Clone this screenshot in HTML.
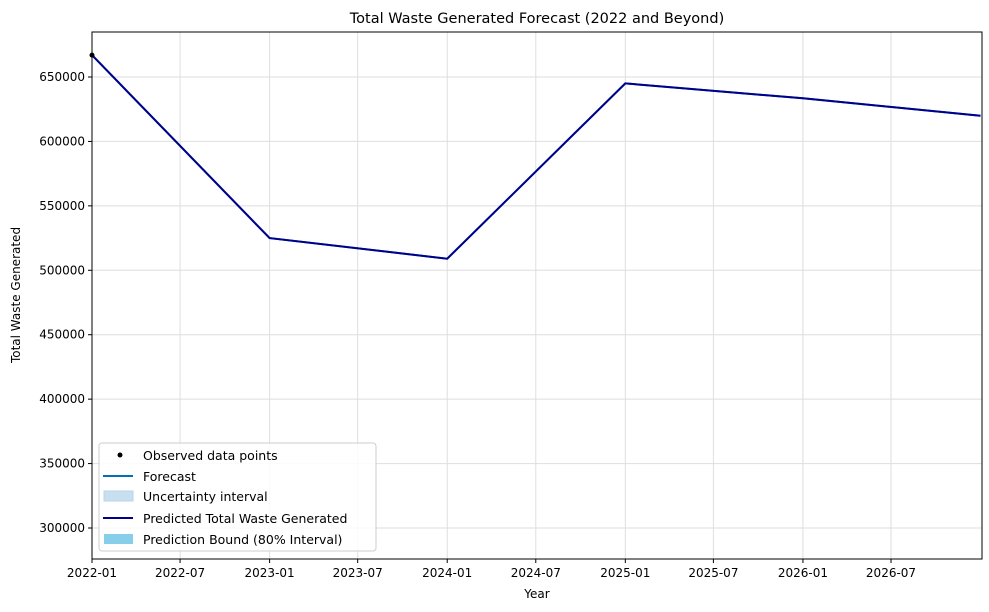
<!DOCTYPE html>
<html><head><meta charset="utf-8"><style>
body{margin:0;background:#fff}
svg{display:block;font-family:"DejaVu Sans","Liberation Sans",sans-serif}
</style></head><body>
<svg id="chart" width="989" height="612" viewBox="0 0 989 612">
<rect width="989" height="612" fill="#fff"/>
<text x="537" y="23" font-size="14.5" text-anchor="middle">Total Waste Generated Forecast (2022 and Beyond)</text>
<g id="grid"></g>
<g id="axes"></g>
<g id="series"></g>
<rect x="92" y="32" width="890" height="527" fill="none" stroke="#000" stroke-width="1"/>
<text x="537" y="598" font-size="12" text-anchor="middle">Year</text>
<text x="20" y="295" font-size="12" text-anchor="middle" transform="rotate(-90 20 295)">Total Waste Generated</text>
<g>
<rect x="99" y="443" width="277" height="108" rx="3" fill="#fff" fill-opacity="0.85" stroke="#ccc"/>
<circle cx="120" cy="455" r="2.5" fill="#000"/>
<text x="143" y="460" font-size="12.5">Observed data points</text>
<line x1="103" y1="476" x2="133" y2="476" stroke="#0072B2" stroke-width="2"/>
<text x="143" y="481" font-size="12.5">Forecast</text>
<rect x="104" y="491" width="29" height="10" fill="#c8dff0" stroke="#b8d4ea"/>
<text x="143" y="501" font-size="12.5">Uncertainty interval</text>
<line x1="103" y1="518" x2="133" y2="518" stroke="#00008B" stroke-width="2"/>
<text x="143" y="523" font-size="12.5">Predicted Total Waste Generated</text>
<rect x="104" y="534" width="29" height="10" fill="#87CEEB"/>
<text x="143" y="544" font-size="12.5">Prediction Bound (80% Interval)</text>
</g>
</svg>
<script>
const dates = ["2022-01-01","2023-01-01","2024-01-01","2025-01-01","2026-01-01","2027-01-01"];
const values = [667000,525000,509000,645000,633500,620000];
const yTicks = [300000,350000,400000,450000,500000,550000,600000,650000];
const xTickLabels = ["2022-01","2022-07","2023-01","2023-07","2024-01","2024-07","2025-01","2025-07","2026-01","2026-07"];
const NS="http://www.w3.org/2000/svg";
const L=92,R=982,T=32,B=559;
const x0=Date.UTC(2022,0,1), x1=Date.UTC(2027,0,4);
const yMin=275943, yMax=684922;
function xs(d){const t=typeof d==="string"?Date.parse(d+(d.length===7?"-01":"")):d;return L+(t-x0)/(x1-x0)*(R-L);}
function ys(v){return B-(v-yMin)/(yMax-yMin)*(B-T);}
function mk(tag,attrs,parent){const e=document.createElementNS(NS,tag);for(const k in attrs)e.setAttribute(k,attrs[k]);parent.appendChild(e);return e;}
const grid=document.getElementById('grid'),axes=document.getElementById('axes'),ser=document.getElementById('series');
yTicks.forEach(v=>{const y=ys(v);
 const g=mk('line',{x1:L,x2:R,y1:y,y2:y,stroke:'#dedede','stroke-width':1},grid);
 
 
 mk('line',{x1:L-4,x2:L,y1:y,y2:y,stroke:'#000'},axes);
 const t=mk('text',{x:L-7,y:y+4,'font-size':12,'text-anchor':'end'},axes);t.textContent=v;
 
 
});
xTickLabels.forEach(s=>{const x=xs(s);
 const g=mk('line',{x1:x,x2:x,y1:T,y2:B,stroke:'#dedede','stroke-width':1},grid);
 
 
 mk('line',{x1:x,x2:x,y1:B,y2:B+4,stroke:'#000'},axes);
 const t=mk('text',{x:x,y:B+18,'font-size':12,'text-anchor':'middle'},axes);t.textContent=s;
 
 
});
const pts=dates.map((d,i)=>xs(d).toFixed(1)+','+ys(values[i]).toFixed(1)).join(' ');
const f=mk('polyline',{points:pts,fill:'none',stroke:'#0072B2','stroke-width':2},ser);


const p=mk('polyline',{points:pts,fill:'none',stroke:'#00008B','stroke-width':2},ser);


const c=mk('circle',{cx:xs(dates[0]),cy:ys(values[0]),r:2.5,fill:'#000'},ser);


</script>
</body></html>
